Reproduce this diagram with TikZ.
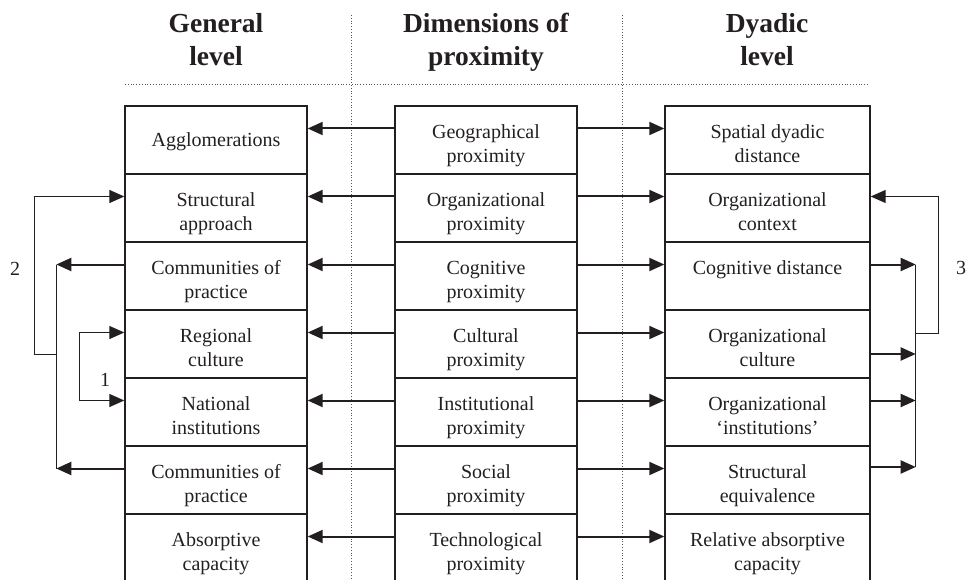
\documentclass[tikz,border=0pt]{standalone}
\usepackage{fontspec}
\setmainfont{Liberation Serif}
\usetikzlibrary{arrows.meta,calc,positioning}
\definecolor{ink}{HTML}{231F20}
\tikzstyle{cell} = [rectangle, draw=ink, line width=1.4pt, minimum width=182pt, minimum height=68pt, inner sep=0pt, align=center, text=ink, font=\fontsize{20}{24}\selectfont]
\tikzstyle{two} = [text height=45pt, text depth=0pt]
\tikzstyle{wide} = [cell, two, minimum width=205pt]
\tikzstyle{head} = [align=center, text=ink, text depth=0pt, font=\fontsize{27.5}{33}\selectfont\bfseries]
\tikzstyle{guide} = [ink!75, line width=0.8pt, dash pattern=on 0.8pt off 2pt]
\tikzstyle{link} = [->, ink, line width=2pt]
\tikzstyle{bus} = [ink, line width=1.3pt]
\tikzstyle{num} = [text=ink, font=\fontsize{20}{24}\selectfont]

\begin{document}
\begin{tikzpicture}[x=1pt,y=1pt,>={Triangle[length=15pt,width=13pt]},node distance=68pt]
  \useasboundingbox (0,0) rectangle (968,579);

  % guide lines
  \draw[guide] (125,495) -- (868,495);
  \draw[guide] (351,564) -- (351,0);
  \draw[guide] (622,564) -- (622,0);

  \node[head] (HGen) at (216,540) {General\\level};
  \node[head] (HDim) at (486,540) {Dimensions of\\proximity};
  \node[head] (HDya) at (767,540) {Dyadic\\level};

  % dimensions of proximity
  \node[cell,two] (Geo) at (486,439) {Geographical\\proximity};
  \node[cell,two] (OrgP) [below of=Geo] {Organizational\\proximity};
  \node[cell,two] (CogP) [below of=OrgP] {Cognitive\\proximity};
  \node[cell,two] (CulP) [below of=CogP] {Cultural\\proximity};
  \node[cell,two] (InsP) [below of=CulP] {Institutional\\proximity};
  \node[cell,two] (SocP) [below of=InsP] {Social\\proximity};
  \node[cell,two] (TecP) [below of=SocP] {Technological\\proximity};

  % general level
  \node[cell,text depth=0pt] (Agglo) [left of=Geo, node distance=270pt] {Agglomerations};
  \node[cell,two] (Struct) [below of=Agglo] {Structural\\approach};
  \node[cell,two] (CommA) [below of=Struct] {Communities of\\practice};
  \node[cell,two] (RegC) [below of=CommA] {Regional\\culture};
  \node[cell,two] (NatI) [below of=RegC] {National\\institutions};
  \node[cell,two] (CommB) [below of=NatI] {Communities of\\practice};
  \node[cell,two] (Absorp) [below of=CommB] {Absorptive\\capacity};

  % dyadic level
  \node[wide] (Spat) [right of=Geo, node distance=281.5pt] {Spatial dyadic\\distance};
  \node[wide] (OrgCx) [below of=Spat] {Organizational\\context};
  \node[wide] (CogD) [below of=OrgCx] {Cognitive distance\\\mbox{}};
  \node[wide] (OrgCu) [below of=CogD] {Organizational\\culture};
  \node[wide] (OrgI) [below of=OrgCu] {Organizational\\`institutions'};
  \node[wide] (StrE) [below of=OrgI] {Structural\\equivalence};
  \node[wide] (RelA) [below of=StrE] {Relative absorptive\\capacity};

  \foreach \m/\g/\d in {Geo/Agglo/Spat, OrgP/Struct/OrgCx, CogP/CommA/CogD,
      CulP/RegC/OrgCu, InsP/NatI/OrgI, SocP/CommB/StrE, TecP/Absorp/RelA} {
    \draw[link] ([yshift=11.5pt]\m.west) -- ([yshift=11.5pt]\g.east);
    \draw[link] ([yshift=11.5pt]\m.east) -- ([yshift=11.5pt]\d.west);
  }

  % loop 1
  \draw[bus,<->] ([yshift=11.5pt]RegC.west) -- ++(-45,0) |- ([yshift=11.5pt]NatI.west);
  \node[num] (n1) at (105,199) {1};

  % loop 2
  \draw[link] ([yshift=11.5pt]CommA.west) -- ++(-68,0) coordinate (pa);
  \draw[link] ([yshift=11.5pt]CommB.west) -- ++(-68,0) coordinate (pb);
  \draw[bus] (pa) -- (pb);
  \draw[bus,->] ($(pa)!0.44!(pb)$) -- ++(-22,0) |- ([yshift=11.5pt]Struct.west);
  \node[num] (n2) at (15,310) {2};

  % loop 3
  \draw[link] ([yshift=11.5pt]CogD.east) -- ++(45,0) coordinate (qa);
  \draw[link] ([yshift=-10pt]OrgCu.east) -- ++(45,0);
  \draw[link] ([yshift=11.5pt]OrgI.east) -- ++(45,0);
  \draw[link] ([yshift=13pt]StrE.east) -- ++(45,0) coordinate (qb);
  \draw[bus] (qa) -- (qb);
  \draw[bus,->] ($(qa)!0.34!(qb)$) -- ++(23,0) |- ([yshift=11.5pt]OrgCx.east);
  \node[num] (n3) at (961,311) {3};
\end{tikzpicture}
\end{document}
